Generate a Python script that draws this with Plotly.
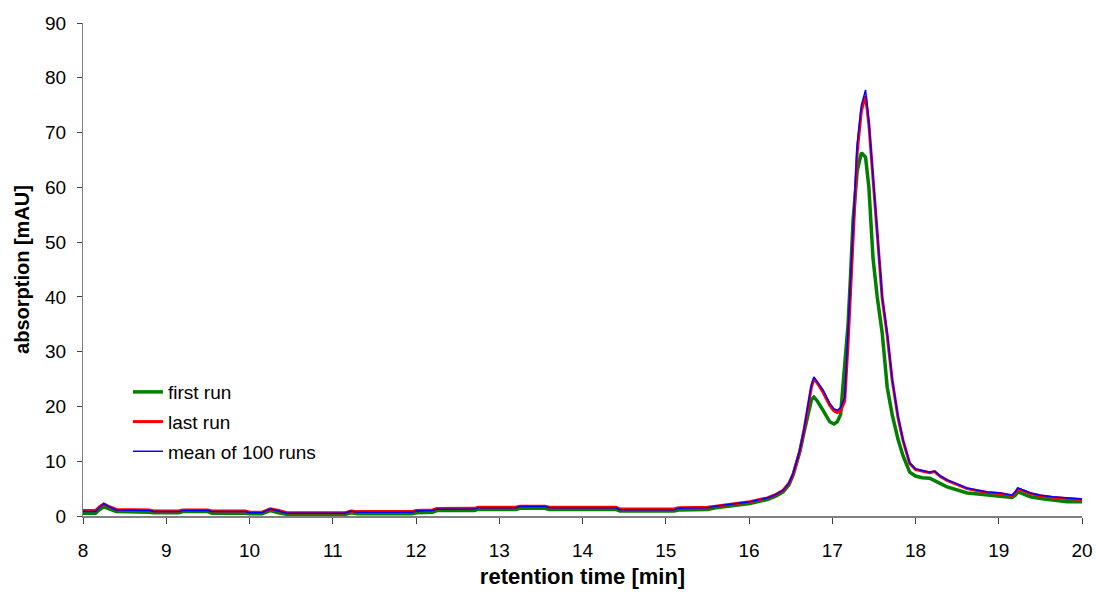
import plotly.graph_objects as go

# Retention time grid [min]
retention_time = [
    8.00, 8.15, 8.20, 8.25, 8.30, 8.40, 8.80, 8.85, 9.15, 9.20,
    9.50, 9.55, 9.95, 10.00, 10.15, 10.25, 10.35, 10.45, 11.15, 11.22,
    11.30, 11.95, 12.00, 12.20, 12.25, 12.70, 12.75, 13.20, 13.25, 13.55,
    13.60, 14.40, 14.45, 15.10, 15.15, 15.50, 15.60, 15.81, 16.01, 16.22,
    16.32, 16.41, 16.48, 16.53, 16.57, 16.61, 16.66, 16.70, 16.75, 16.78,
    16.82, 16.89, 16.97, 17.02, 17.06, 17.10, 17.15, 17.19, 17.22, 17.25,
    17.30, 17.35, 17.40, 17.44, 17.49, 17.54, 17.60, 17.66, 17.72, 17.79,
    17.85, 17.93, 18.00, 18.08, 18.17, 18.23, 18.30, 18.38, 18.50, 18.62,
    18.75, 18.86, 19.02, 19.16, 19.20, 19.23, 19.30, 19.38, 19.50, 19.65,
    19.82, 20.00,
]

# Absorption [mAU] of the first run
first_run = [
    0.5, 0.5, 1.2, 1.7, 1.4, 0.8, 0.7, 0.6, 0.6, 0.8,
    0.8, 0.5, 0.5, 0.4, 0.4, 1.0, 0.6, 0.3, 0.3, 0.6,
    0.4, 0.4, 0.6, 0.7, 1.0, 1.0, 1.2, 1.2, 1.4, 1.4,
    1.2, 1.2, 0.9, 0.9, 1.1, 1.2, 1.5, 1.9, 2.3, 3.0,
    3.6, 4.4, 5.7, 7.5, 9.5, 11.7, 15.2, 18.0, 21.2, 21.7,
    21.0, 19.3, 17.2, 16.8, 17.2, 18.5, 27.0, 35.0, 44.0, 54.0,
    63.0, 66.3, 65.5, 60.0, 47.0, 40.0, 33.4, 23.5, 18.5, 14.0,
    11.0, 8.0, 7.3, 7.0, 6.9, 6.5, 5.9, 5.3, 4.7, 4.2,
    4.0, 3.8, 3.6, 3.4, 3.8, 4.4, 4.0, 3.5, 3.2, 2.9,
    2.6, 2.6,
]

# Absorption [mAU] of the last run
last_run = [
    1.0, 1.0, 1.7, 2.2, 1.8, 1.2, 1.1, 0.9, 0.9, 1.1,
    1.1, 0.9, 0.9, 0.7, 0.7, 1.3, 1.0, 0.6, 0.6, 0.9,
    0.8, 0.8, 1.0, 1.1, 1.35, 1.4, 1.6, 1.6, 1.8, 1.8,
    1.6, 1.6, 1.3, 1.3, 1.5, 1.6, 1.8, 2.2, 2.6, 3.3,
    3.9, 4.7, 6.0, 7.6, 9.6, 11.8, 15.6, 19.0, 23.6, 25.0,
    24.3, 22.6, 20.2, 19.2, 18.9, 19.2, 21.0, 31.5, 40.5, 51.0,
    66.5, 74.0, 76.7, 71.5, 61.5, 51.5, 39.8, 33.0, 24.8, 18.0,
    13.8, 9.6, 8.5, 8.2, 7.9, 8.1, 7.2, 6.5, 5.7, 5.0,
    4.6, 4.3, 4.1, 3.7, 4.3, 5.0, 4.6, 4.1, 3.7, 3.4,
    3.2, 3.0,
]

# Absorption [mAU] averaged over 100 runs
mean_runs = [
    0.8, 0.8, 1.6, 2.3, 1.8, 1.1, 1.0, 0.8, 0.8, 1.0,
    1.0, 0.8, 0.8, 0.6, 0.6, 1.3, 0.9, 0.5, 0.5, 0.9,
    0.7, 0.7, 0.9, 1.0, 1.25, 1.3, 1.5, 1.5, 1.75, 1.75,
    1.5, 1.5, 1.15, 1.15, 1.4, 1.5, 1.8, 2.2, 2.6, 3.3,
    3.9, 4.7, 6.0, 7.8, 9.8, 12.0, 15.8, 19.3, 24.0, 25.4,
    24.6, 23.0, 20.6, 19.6, 19.3, 19.8, 21.7, 33.4, 42.0, 52.7,
    68.0, 75.0, 77.8, 72.0, 62.0, 52.0, 40.0, 33.4, 25.0, 18.1,
    13.9, 9.7, 8.6, 8.3, 8.0, 8.2, 7.3, 6.6, 5.8, 5.1,
    4.7, 4.4, 4.2, 3.8, 4.4, 5.1, 4.7, 4.2, 3.8, 3.5,
    3.3, 3.1,
]

x_ticks = list(range(8, 21))
y_ticks = list(range(0, 91, 10))

FONT = "Liberation Sans, Arial, sans-serif"

fig = go.Figure()
fig.add_trace(go.Scatter(x=retention_time, y=first_run, mode="lines", name="first run",
                         legendgroup="a", line=dict(color="#008000", width=3.5)))
fig.add_trace(go.Scatter(x=retention_time, y=last_run, mode="lines", name="last run",
                         legendgroup="b", line=dict(color="#ff0000", width=3)))
fig.add_trace(go.Scatter(x=retention_time, y=mean_runs, mode="lines", name="mean of 100 runs",
                         legendgroup="c", line=dict(color="#0000ff", width=1.5)))

fig.update_layout(
    width=1096, height=592,
    margin=dict(l=83, r=14, t=23, b=76, autoexpand=False),
    paper_bgcolor="white", plot_bgcolor="white",
    font=dict(family=FONT, size=19, color="black"),
    showlegend=True,
    legend=dict(x=0.045, y=0.29, xanchor="left", yanchor="top",
                bgcolor="rgba(0,0,0,0)", font=dict(size=19),
                tracegroupgap=2, itemwidth=30),
    xaxis=dict(range=[8, 20], tickvals=x_ticks, showgrid=False, zeroline=False,
               showline=True, linecolor="#808080", linewidth=2, automargin=False,
               ticks="outside", ticklen=6, tickcolor="#404040", ticklabelstandoff=10,
               title=dict(text="<b>retention time [min]</b>", font=dict(size=22), standoff=9)),
    yaxis=dict(range=[0, 90], tickvals=y_ticks, showgrid=False, zeroline=False,
               showline=True, linecolor="#808080", linewidth=1, automargin=False,
               ticks="outside", ticklen=5, tickcolor="#404040", ticklabelstandoff=7,
               title=dict(text="<b>absorption [mAU]</b>", font=dict(size=20), standoff=10)),
)

fig.write_html("out.html")
